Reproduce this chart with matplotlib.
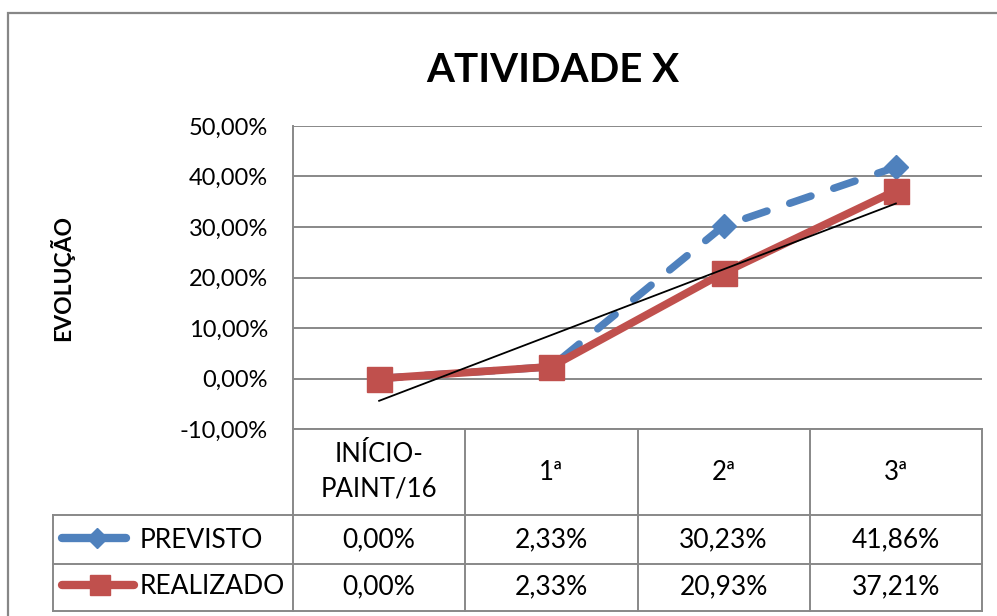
import numpy as np
import matplotlib
matplotlib.use("Agg")
import matplotlib.pyplot as plt
from matplotlib.ticker import FuncFormatter, MultipleLocator
from matplotlib.patches import Rectangle

plt.rcParams['font.family'] = ['Lato', 'DejaVu Sans']

categorias = ["INÍCIO-\nPAINT/16", "1ª", "2ª", "3ª"]
previsto = [0.0, 2.33, 30.23, 41.86]
realizado = [0.0, 2.33, 20.93, 37.21]
series = ["PREVISTO", "REALIZADO"]

azul = "#4F81BD"
vermelho = "#C0504D"
cinza = "#888888"

W, H = 997, 616
fig = plt.figure(figsize=(W / 100, H / 100), dpi=100)

# moldura do gráfico
fig.patches.append(Rectangle((8 / W, -0.1), 1.2, (H - 13) / H + 0.1,
                             transform=fig.transFigure, fill=False,
                             edgecolor="#878787", lw=1.6))

# área de plotagem (pixels)
px_l, px_r, px_t, px_b = 293, 982, 126, 429
ax = fig.add_axes([px_l / W, 1 - px_b / H, (px_r - px_l) / W, (px_b - px_t) / H])
x = np.arange(len(categorias))
prev = np.array(previsto) / 100
real = np.array(realizado) / 100

ax.plot(x, prev, color=azul, lw=5.4, dashes=(3, 3.2), dash_capstyle='round',
        marker='D', markersize=12.5, markeredgecolor=azul, zorder=3)
ax.plot(x, real, color=vermelho, lw=5.6, solid_capstyle='round',
        marker='s', markersize=18, markeredgecolor=vermelho, zorder=4)
# linha de tendência linear (REALIZADO)
a, b = np.polyfit(x, real, 1)
ax.plot(x, a * x + b, color="black", lw=1.3, zorder=5)

ax.set_xlim(-0.5, len(categorias) - 0.5)
ax.set_ylim(-0.10, 0.50)
ax.yaxis.set_major_locator(MultipleLocator(0.10))
ax.yaxis.set_major_formatter(FuncFormatter(lambda v, p: f"{v * 100:.2f}%".replace('.', ',')))
ax.set_xticks([])
ax.tick_params(axis='y', length=0, labelsize=17, pad=18)
ax.grid(axis='y', color=cinza, lw=1.4)
ax.set_axisbelow(True)
for s in ['top', 'right']:
    ax.spines[s].set_visible(False)
ax.spines['left'].set_color(cinza)
ax.spines['left'].set_lw(1.4)
ax.spines['bottom'].set_color(cinza)
ax.spines['bottom'].set_lw(1.4)

fig.text(553 / W, 1 - 70 / H, "ATIVIDADE X", ha='center', va='center',
         fontsize=29, fontweight='bold')
fig.text(62 / W, 1 - 278 / H, "EVOLUÇÃO", ha='center', va='center',
         rotation=90, fontsize=16.5, fontweight='bold')

# tabela de dados
tb = fig.add_axes([px_l / W, 1 - 611 / H, (px_r - px_l) / W, (611 - px_b) / H], sharex=ax)
tb.set_ylim(611, px_b)
tb.axis('off')
colw = (px_r - px_l) / len(categorias)


def cx(px):
    return -0.5 + (px - px_l) / colw


xl = cx(53)
x_end = len(categorias) - 0.5
linhas = [515, 564, 611]
for yy in linhas:
    tb.plot([xl, x_end], [yy, yy], color=cinza, lw=1.4, clip_on=False)
for i in range(len(categorias) + 1):
    tb.plot([i - 0.5, i - 0.5], [px_b, 611], color=cinza, lw=1.4, clip_on=False)
tb.plot([xl, xl], [515, 611], color=cinza, lw=1.4, clip_on=False)

for i, c in enumerate(categorias):
    tb.text(i, 472, c, ha='center', va='center', fontsize=18.5, linespacing=1.45)
    tb.text(i, 540, f"{previsto[i]:.2f}%".replace('.', ','), ha='center', va='center', fontsize=19)
    tb.text(i, 587, f"{realizado[i]:.2f}%".replace('.', ','), ha='center', va='center', fontsize=19)

# chaves da legenda
tb.plot([cx(62), cx(126)], [538, 538], color=azul, lw=6, solid_capstyle='round', clip_on=False)
tb.plot([cx(97)], [538], color=azul, marker='D', markersize=10, clip_on=False)
tb.plot([cx(62), cx(134)], [585, 585], color=vermelho, lw=6, solid_capstyle='round', clip_on=False)
tb.plot([cx(100)], [585], color=vermelho, marker='s', markersize=14, clip_on=False)
tb.text(cx(140), 540, series[0], ha='left', va='center', fontsize=19)
tb.text(cx(140), 587, series[1], ha='left', va='center', fontsize=19)

fig.savefig("out.png", dpi=100)
